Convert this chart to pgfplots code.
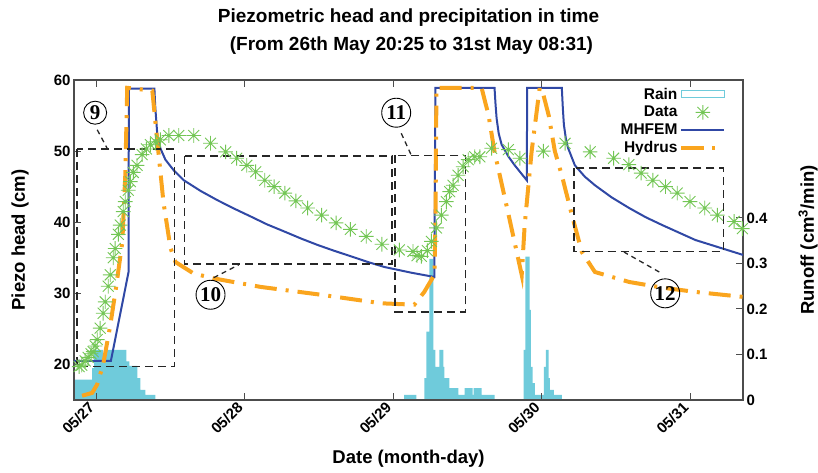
\documentclass[border=0pt]{standalone}
\usepackage{fontspec}
\setmainfont{Liberation Sans}
\newfontfamily\numfont{Liberation Serif}
\usepackage{pgfplots}
\pgfplotsset{compat=1.18}

\definecolor{raincol}{RGB}{111,203,219}
\definecolor{datacol}{RGB}{115,198,85}
\definecolor{mhfcol}{RGB}{48,72,165}
\definecolor{hydcol}{RGB}{250,165,30}

% gnuplot-like star: plus and cross
\pgfdeclareplotmark{gstar}{%
  \pgfpathmoveto{\pgfqpoint{-\pgfplotmarksize}{0pt}}\pgfpathlineto{\pgfqpoint{\pgfplotmarksize}{0pt}}%
  \pgfpathmoveto{\pgfqpoint{0pt}{-\pgfplotmarksize}}\pgfpathlineto{\pgfqpoint{0pt}{\pgfplotmarksize}}%
  \pgfpathmoveto{\pgfqpoint{-.75\pgfplotmarksize}{-.75\pgfplotmarksize}}\pgfpathlineto{\pgfqpoint{.75\pgfplotmarksize}{.75\pgfplotmarksize}}%
  \pgfpathmoveto{\pgfqpoint{-.75\pgfplotmarksize}{.75\pgfplotmarksize}}\pgfpathlineto{\pgfqpoint{.75\pgfplotmarksize}{-.75\pgfplotmarksize}}%
  \pgfusepathqstroke}

\pgfplotsset{
  base/.style={
    scale only axis, width=669pt, height=320pt,
    xmin=-0.1493, xmax=4.3549,
    tick align=inside, major tick length=7pt,
    axis line style={black!70, line width=1.1pt},
    every tick/.style={black!70, line width=1pt},
    tick label style={font=\fontsize{15}{18}\selectfont\bfseries},
    label style={font=\fontsize{18.5}{22}\selectfont\bfseries},
    /pgf/number format/assume math mode=true,
  },
}
\tikzset{
  zbox/.style={black!85, line width=1.7pt, dash pattern=on 8pt off 5pt},
  lead/.style={black!85, line width=1.3pt, dash pattern=on 5pt off 4pt},
  circ/.style={circle, draw=black, line width=0.9pt, inner sep=0pt, font=\numfont\bfseries\fontsize{21}{21}\selectfont},
}

\begin{document}
\begin{tikzpicture}

% rain on the right axis, drawn first so that it stays beneath the curves
\begin{axis}[base,
    ymin=0, ymax=0.7033,
    axis x line=none, axis y line*=right,
    ytick={0,0.1,0.2,0.3,0.4},
    ylabel={Runoff (cm\textsuperscript{3}/min)},
    ylabel style={at={(axis description cs:1.0972,0.5)}, anchor=center},
]
\addplot[const plot, fill=raincol, draw=none] coordinates {
  (-0.142,0.045)(-0.027,0.07)(-0.014,0.11)(0.047,0.10)(0.068,0.11)(0.203,0.085)
  (0.223,0.075)(0.277,0.048)(0.297,0.022)(0.331,0.011)(0.399,0)
  (2.074,0.011)(2.155,0)(2.209,0.048)(2.223,0.15)(2.243,0.31)(2.270,0.11)
  (2.284,0.073)(2.311,0.11)(2.338,0.073)(2.345,0.048)(2.378,0.026)(2.439,0.011)
  (2.480,0.026)(2.534,0.011)(2.541,0.026)(2.595,0.011)(2.682,0)
  (2.878,0.11)(2.889,0.315)(2.919,0.198)(2.926,0.073)(2.939,0.037)(2.953,0.011)
  (3.014,0.073)(3.027,0.11)(3.047,0.048)(3.054,0.022)(3.081,0.011)(3.135,0)
  (4.3549,0)
} \closedcycle;
\end{axis}

\begin{axis}[base,
    ymin=15, ymax=60,
    ytick={20,30,40,50,60}, ytick pos=left, xtick pos=both,
    xtick={0,1,2,3,4},
    xticklabels={05/27,05/28,05/29,05/30,05/31},
    xticklabel style={rotate=45, anchor=east, xshift=-3pt},
    xlabel={Date (month-day)},
    ylabel={Piezo head (cm)},
    xlabel style={at={(axis description cs:0.5,-0.184)}, anchor=center},
    ylabel style={at={(axis description cs:-0.0807,0.5)}, anchor=center},
    legend style={at={(axis description cs:0.977,0.985)}, anchor=north east,
      draw=none, fill=none, font=\fontsize{15.5}{17.5}\selectfont\bfseries,
      row sep=1.5pt, inner sep=1pt},
    legend cell align=right, legend plot pos=right,
    legend image code/.code={\draw[mark repeat=2,mark phase=2,#1]
      plot coordinates {(0pt,0pt)(21.5pt,0pt)(43pt,0pt)};},
]
\addlegendimage{legend image code/.code={\draw[raincol, line width=1.2pt] (0pt,-3.5pt) rectangle (43pt,3.5pt);}}
\addlegendentry{Rain}

\addplot[only marks, mark=gstar, mark size=7.3pt, datacol, line width=0.9pt] coordinates {
  (-0.115,19.7)(-0.097,19.9)(-0.074,20.5)(-0.054,21.0)(-0.034,21.5)(-0.020,21.8)
  (-0.007,22.6)(0.007,23.5)(0.027,25.1)(0.047,27.2)(0.061,28.8)(0.081,31.0)
  (0.095,32.6)(0.115,35.0)(0.128,36.3)(0.149,38.3)(0.162,39.6)(0.182,41.5)
  (0.196,42.9)(0.216,44.5)(0.230,45.7)(0.250,47.0)(0.275,48.0)(0.309,49.5)
  (0.338,50.3)(0.365,50.9)(0.400,51.3)(0.432,51.6)(0.489,52.2)(0.556,52.2)
  (0.657,52.2)(0.770,51.1)(0.872,49.9)(0.946,49.0)(1.014,48.0)(1.074,47.1)
  (1.135,45.9)(1.198,45.0)(1.270,44.1)(1.345,43.0)(1.424,42.0)(1.518,41.0)
  (1.615,39.9)(1.711,39.0)(1.818,38.0)(1.924,36.9)(2.041,36.1)(2.133,35.9)
  (2.160,35.3)(2.189,35.2)(2.230,36.0)(2.257,37.3)(2.291,39.2)(2.324,41.0)
  (2.358,42.9)(2.380,44.3)(2.403,45.2)(2.437,46.6)(2.471,47.8)(2.505,48.8)
  (2.549,49.2)(2.583,49.2)(2.662,50.4)(2.775,50.2)(2.853,49.0)(3.011,50.0)
  (3.157,51.1)(3.326,49.9)(3.484,49.0)(3.586,48.1)(3.669,46.9)(3.748,45.9)
  (3.833,45.0)(3.912,44.1)(3.998,42.9)(4.097,42.0)(4.182,41.0)(4.295,40.1)
  (4.351,39.1)
};
\addlegendentry{Data}

\addplot[mhfcol, line width=2pt] coordinates {
  (-0.149,20.5)(0.099,20.5)(0.218,33.0)(0.220,58.8)(0.392,58.8)(0.397,56.5)
  (0.402,55.0)(0.412,52.2)(0.432,50.4)(0.466,48.8)(0.522,47.3)(0.590,45.9)
  (0.703,44.4)(0.816,43.1)(0.930,41.9)(1.041,40.8)(1.150,39.7)(1.266,38.7)
  (1.380,37.7)(1.491,36.8)(1.600,36.0)(1.716,35.2)(1.830,34.4)(1.941,33.7)
  (2.122,32.9)(2.277,32.3)(2.284,58.9)(2.682,58.9)(2.689,56.5)(2.696,54.6)
  (2.710,52.5)(2.730,50.9)(2.777,49.2)(2.818,48.0)(2.899,45.9)(2.902,58.9)
  (3.135,58.9)(3.142,56.0)(3.149,53.7)(3.162,51.8)(3.176,50.5)(3.223,48.0)
  (3.290,46.4)(3.358,45.2)(3.470,43.5)(3.588,42.0)(3.700,40.7)(3.811,39.6)
  (4.034,37.5)(4.355,35.4)
};
\addlegendentry{MHFEM}

\addplot[hydcol, line width=4pt, dash pattern=on 22pt off 9pt on 3pt off 9pt] coordinates {
  (-0.095,15.6)(-0.027,16.0)(0.007,17.2)(0.047,20.0)(0.095,25.5)(0.135,31.0)
  (0.176,37.2)(0.196,46.6)(0.209,58.9)(0.378,58.5)(0.412,51.3)(0.453,42.8)
  (0.500,36.4)(0.534,34.4)(0.655,32.8)(0.791,32.1)(1.108,30.9)(1.514,29.8)
  (1.919,28.6)(2.142,28.4)(2.209,30.2)(2.277,32.6)(2.284,39.6)(2.291,58.9)
  (2.595,58.9)(2.642,55.0)(2.682,49.9)(2.777,41.0)(2.865,32.6)(2.885,39.6)
  (2.932,50.0)(2.986,58.9)(3.010,58.0)(3.047,55.0)(3.088,50.0)(3.135,46.6)
  (3.203,41.0)(3.270,35.8)(3.358,33.0)(3.588,31.6)(3.811,30.8)(4.034,30.2)
  (4.355,29.5)
};
\addlegendentry{Hydrus}

% zoom boxes and their numbers
\draw[zbox] (axis cs:-0.130,50.3) rectangle (axis cs:0.527,19.7);
\draw[zbox] (axis cs:0.595,49.3) rectangle (axis cs:1.993,34.1);
\draw[zbox] (axis cs:2.014,49.4) rectangle (axis cs:2.486,27.4);
\draw[zbox] (axis cs:3.216,47.6) rectangle (axis cs:4.223,35.9);

\draw[lead] (axis cs:0.007,53.0) -- (axis cs:0.074,50.4);
\draw[lead] (axis cs:0.791,32.2) -- (axis cs:0.959,34.0);
\draw[lead] (axis cs:2.054,52.5) -- (axis cs:2.122,49.4);
\draw[lead] (axis cs:3.791,33.0) -- (axis cs:3.554,35.8);

\node[circ, minimum size=23pt] at (axis cs:-0.007,55.4) {9};
\node[circ, minimum size=29pt] at (axis cs:0.770,29.8) {10};
\node[circ, minimum size=29pt] at (axis cs:2.020,55.4) {11};
\node[circ, minimum size=29pt] at (axis cs:3.831,30.0) {12};

\coordinate (SW) at (rel axis cs:0,0);
\coordinate (NE) at (rel axis cs:1,1);
\coordinate (T) at (rel axis cs:0.5,1);
\end{axis}

\node[font=\fontsize{19}{22}\selectfont\bfseries] at ([yshift=62pt]T) {Piezometric head and precipitation in time};
\node[font=\fontsize{19}{22}\selectfont\bfseries] at ([xshift=3pt,yshift=34pt]T) {(From 26th May 20:25 to 31st May 08:31)};

\pgfresetboundingbox
\path[use as bounding box] ([shift={(-74pt,-73pt)}]SW) rectangle ([shift={(75pt,80pt)}]NE);
\end{tikzpicture}
\end{document}
